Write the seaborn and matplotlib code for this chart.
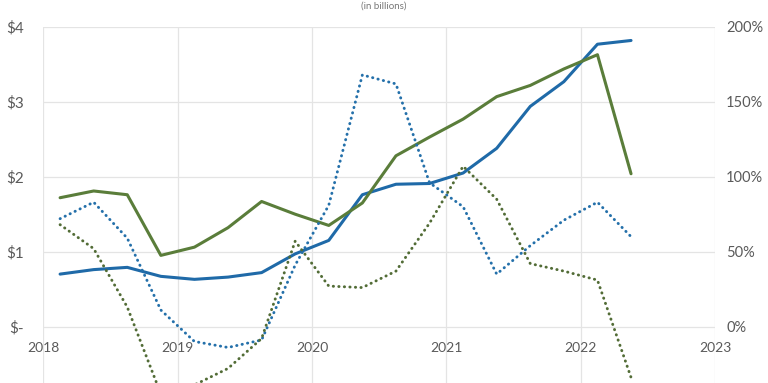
import numpy as np
import pandas as pd
import matplotlib
matplotlib.use("Agg")
import matplotlib.pyplot as plt
import seaborn as sns

# ---- data (quarterly, fractional years) ----
quarters = [2018.125 + 0.25 * k for k in range(18)]
blue_value = [0.70, 0.76, 0.79, 0.67, 0.63, 0.66, 0.72, 0.97, 1.15, 1.76,
              1.90, 1.91, 2.05, 2.38, 2.94, 3.27, 3.77, 3.82]
green_value = [1.72, 1.81, 1.76, 0.95, 1.06, 1.32, 1.67, 1.50, 1.35, 1.65,
               2.28, 2.53, 2.77, 3.07, 3.22, 3.44, 3.63, 2.04]
blue_growth = [72, 83, 59, 11, -10, -14, -9, 41, 81, 168,
               162, 96, 80, 35, 54, 71, 83, 60]
green_growth = [68, 52, 13, -45, -39, -28, -8, 57, 27, 26,
                37, 69, 107, 85, 42, 37, 31, -34]
year_ticks = [2018, 2019, 2020, 2021, 2022, 2023]
left_ticks = [0, 1, 2, 3, 4]
right_ticks = [0, 50, 100, 150, 200]

df = pd.DataFrame({"quarter": quarters, "blue_value": blue_value,
                   "green_value": green_value, "blue_growth": blue_growth,
                   "green_growth": green_growth})

sns.set_theme(style="white")
plt.rcParams['font.family'] = ['Lato', 'DejaVu Sans']

BLUE = "#1f6aa8"
GREEN = "#5a7d3a"
BLUE_DOT = "#2470aa"
GREEN_DOT = "#526c36"
TXT = "#5a5a5a"
GRID = "#e4e4e4"

fig = plt.figure(figsize=(7.68, 3.83), dpi=100)
ax = fig.add_axes([43.3 / 768, 1 - 401.4 / 383, (715 - 43.3) / 768, (401.4 - 27) / 383])
ax2 = ax.twinx()

ax.set_xticks(year_ticks)
ax.set_yticks([-1] + left_ticks)
ax.grid(True, color=GRID, linewidth=0.9)
ax.set_axisbelow(True)

for a in (ax, ax2):
    for s in a.spines.values():
        s.set_visible(False)

sns.lineplot(data=df, x="quarter", y="blue_value", ax=ax, color=BLUE,
             linewidth=2.2, solid_joinstyle="round")
sns.lineplot(data=df, x="quarter", y="green_value", ax=ax, color=GREEN,
             linewidth=2.2, solid_joinstyle="round")
sns.lineplot(data=df, x="quarter", y="blue_growth", ax=ax2, color=BLUE_DOT,
             linewidth=2.1, linestyle=(0, (0.1, 1.8)), dash_capstyle="round")
sns.lineplot(data=df, x="quarter", y="green_growth", ax=ax2, color=GREEN_DOT,
             linewidth=2.1, linestyle=(0, (0.1, 1.8)), dash_capstyle="round")

ax.set_xlim(2018, 2023)
ax.set_ylim(-1, 4)
ax2.set_ylim(-50, 200)

# x axis labels at the zero line
ax.spines['bottom'].set_position(('data', 0))
ax.tick_params(axis='x', length=0, pad=11, labelsize=10, labelcolor=TXT)
ax.set_xticks(year_ticks)
ax.set_xticklabels([str(y) for y in year_ticks])

# left y axis
ax.set_yticks([-1] + left_ticks)
ax.set_yticklabels([""] + ["$-" if v == 0 else f"${v}" for v in left_ticks])
ax.tick_params(axis='y', length=0, pad=14, labelsize=11, labelcolor=TXT)

# right y axis
ax2.set_yticks(right_ticks)
ax2.set_yticklabels([f"{v}%" for v in right_ticks])
ax2.tick_params(axis='y', length=0, pad=8, labelsize=10.5, labelcolor=TXT)
ax2.grid(False)

ax.set_xlabel("")
ax.set_ylabel("")
ax2.set_xlabel("")
ax2.set_ylabel("")

fig.text(0.5, 1 - 6 / 383, "(in billions)", ha="center", va="center",
         fontsize=7, color="#777777")

fig.savefig("out.png", dpi=100)
